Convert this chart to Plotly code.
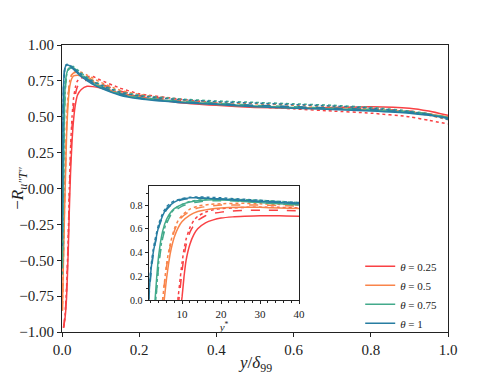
import plotly.graph_objects as go

# colours per theta
colors = {"0.25": "#f94144", "0.5": "#f9844a", "0.75": "#43aa8b", "1": "#277da1"}
thetas = ["0.25", "0.5", "0.75", "1"]
dashes = ["solid", "dash", "dot"]

# ---------- main plot data: -R vs y/delta99 ----------
x_red = [0.004, 0.008, 0.012, 0.016, 0.019, 0.022, 0.026, 0.03, 0.035, 0.04, 0.05, 0.065, 0.08,
         0.1, 0.15, 0.2, 0.3, 0.4, 0.5, 0.6, 0.7, 0.8, 0.9, 0.95, 1.0]
red_solid = [-0.97, -0.9, -0.75, -0.45, -0.15, 0.1, 0.33, 0.48, 0.59, 0.65, 0.69, 0.712, 0.71,
             0.70, 0.665, 0.64, 0.60, 0.58, 0.565, 0.56, 0.565, 0.57, 0.56, 0.54, 0.51]
red_dash = [-0.97, -0.88, -0.7, -0.38, -0.05, 0.2, 0.43, 0.57, 0.66, 0.71, 0.745, 0.755, 0.75,
            0.73, 0.68, 0.65, 0.615, 0.59, 0.575, 0.565, 0.56, 0.555, 0.54, 0.52, 0.495]
red_dot = [-0.97, -0.88, -0.68, -0.35, 0.0, 0.27, 0.5, 0.63, 0.71, 0.75, 0.77, 0.78, 0.78,
           0.755, 0.70, 0.66, 0.625, 0.595, 0.57, 0.555, 0.54, 0.525, 0.5, 0.475, 0.45]

x_orange = [0.001, 0.003, 0.005, 0.007, 0.009, 0.012, 0.016, 0.02, 0.025, 0.03, 0.04, 0.05, 0.065,
            0.08, 0.1, 0.15, 0.2, 0.3, 0.4, 0.5, 0.6, 0.7, 0.8, 0.9, 0.95, 1.0]
orange_solid = [-0.85, -0.6, -0.35, -0.12, 0.08, 0.38, 0.6, 0.71, 0.765, 0.785, 0.79, 0.785, 0.765,
                0.745, 0.715, 0.66, 0.635, 0.605, 0.585, 0.57, 0.56, 0.555, 0.55, 0.535, 0.52, 0.50]
orange_dash = [-0.85, -0.55, -0.3, -0.05, 0.15, 0.45, 0.65, 0.74, 0.79, 0.805, 0.81, 0.80, 0.78,
               0.755, 0.725, 0.665, 0.64, 0.61, 0.59, 0.575, 0.565, 0.56, 0.55, 0.535, 0.52, 0.495]
orange_dot = [-0.85, -0.55, -0.3, -0.05, 0.15, 0.45, 0.66, 0.75, 0.795, 0.81, 0.815, 0.81, 0.79,
              0.77, 0.74, 0.685, 0.655, 0.62, 0.60, 0.59, 0.58, 0.57, 0.555, 0.53, 0.51, 0.48]

x_green = [0.001, 0.003, 0.005, 0.008, 0.012, 0.016, 0.02, 0.025, 0.03, 0.045, 0.06, 0.08, 0.1,
           0.15, 0.2, 0.3, 0.4, 0.5, 0.6, 0.7, 0.8, 0.9, 0.95, 1.0]
green_solid = [-0.5, -0.1, 0.35, 0.7, 0.8, 0.83, 0.84, 0.845, 0.84, 0.80, 0.77, 0.735, 0.705,
               0.655, 0.63, 0.605, 0.59, 0.575, 0.565, 0.555, 0.545, 0.53, 0.515, 0.495]
green_dash = [-0.55, -0.15, 0.3, 0.67, 0.79, 0.825, 0.835, 0.84, 0.84, 0.805, 0.775, 0.74, 0.71,
              0.66, 0.635, 0.61, 0.595, 0.58, 0.57, 0.56, 0.55, 0.535, 0.52, 0.495]
green_dot = [-0.6, -0.2, 0.3, 0.67, 0.79, 0.83, 0.845, 0.85, 0.85, 0.815, 0.785, 0.75, 0.725,
             0.675, 0.65, 0.625, 0.61, 0.60, 0.59, 0.58, 0.565, 0.54, 0.52, 0.49]

x_blue = [0.0005, 0.002, 0.004, 0.007, 0.01, 0.015, 0.02, 0.03, 0.045, 0.06, 0.08, 0.1, 0.15,
          0.2, 0.3, 0.4, 0.5, 0.6, 0.7, 0.8, 0.9, 0.95, 1.0]
blue_solid = [-0.3, 0.35, 0.72, 0.83, 0.855, 0.86, 0.855, 0.83, 0.79, 0.76, 0.725, 0.70, 0.65,
              0.625, 0.60, 0.585, 0.57, 0.56, 0.55, 0.54, 0.525, 0.51, 0.49]
blue_dash = [-0.35, 0.3, 0.7, 0.83, 0.855, 0.86, 0.855, 0.835, 0.80, 0.77, 0.735, 0.71, 0.66,
             0.63, 0.605, 0.59, 0.58, 0.57, 0.56, 0.55, 0.53, 0.515, 0.49]
blue_dot = [-0.4, 0.3, 0.7, 0.83, 0.86, 0.865, 0.86, 0.84, 0.805, 0.775, 0.745, 0.72, 0.67,
            0.645, 0.62, 0.605, 0.595, 0.585, 0.575, 0.56, 0.535, 0.515, 0.48]

# ---------- inset data: -R vs y* ----------
yp_red = [8.5, 9, 9.5, 10, 10.5, 11, 12, 13, 14, 16, 18, 20, 23, 26, 30, 35, 40]
in_red_solid = [-0.4, -0.25, -0.1, 0.03, 0.2, 0.33, 0.47, 0.55, 0.6, 0.65, 0.675, 0.69, 0.70,
                0.705, 0.71, 0.71, 0.705]
in_red_dash = [-0.2, -0.05, 0.1, 0.25, 0.37, 0.46, 0.57, 0.63, 0.67, 0.71, 0.73, 0.74, 0.75,
               0.755, 0.755, 0.755, 0.75]
in_red_dot = [-0.1, 0.03, 0.18, 0.32, 0.43, 0.51, 0.61, 0.67, 0.705, 0.74, 0.76, 0.77, 0.775,
              0.78, 0.78, 0.78, 0.775]

yp_orange = [4.5, 5, 5.5, 6, 6.5, 7, 8, 9, 10, 12, 14, 17, 20, 25, 30, 35, 40]
in_orange_solid = [-0.3, -0.12, 0.03, 0.18, 0.3, 0.4, 0.53, 0.61, 0.66, 0.715, 0.745, 0.765,
                   0.775, 0.78, 0.78, 0.775, 0.77]
in_orange_dash = [-0.2, 0.0, 0.15, 0.28, 0.38, 0.46, 0.58, 0.655, 0.70, 0.75, 0.775, 0.79,
                  0.80, 0.80, 0.80, 0.795, 0.79]
in_orange_dot = [-0.2, 0.0, 0.16, 0.3, 0.4, 0.48, 0.6, 0.67, 0.715, 0.765, 0.79, 0.805, 0.81,
                 0.815, 0.81, 0.805, 0.80]

yp_green = [2.5, 3, 3.5, 4, 5, 6, 7, 8, 10, 12, 15, 18, 22, 26, 30, 35, 40]
in_green_solid = [-0.15, -0.02, 0.2, 0.38, 0.58, 0.68, 0.735, 0.77, 0.805, 0.825, 0.84, 0.845,
                  0.84, 0.83, 0.82, 0.81, 0.80]
in_green_dash = [-0.25, -0.1, 0.1, 0.3, 0.52, 0.64, 0.71, 0.75, 0.79, 0.815, 0.83, 0.835, 0.835,
                 0.83, 0.82, 0.81, 0.80]
in_green_dot = [-0.25, -0.1, 0.12, 0.32, 0.54, 0.66, 0.725, 0.765, 0.805, 0.83, 0.845, 0.85,
                0.85, 0.845, 0.84, 0.83, 0.82]

yp_blue = [1.0, 1.5, 2, 2.5, 3, 4, 5, 6, 7, 8, 10, 12, 14, 17, 20, 25, 30, 35, 40]
in_blue_solid = [-0.3, 0.05, 0.25, 0.38, 0.47, 0.62, 0.71, 0.77, 0.80, 0.825, 0.85, 0.86, 0.86,
                 0.855, 0.85, 0.84, 0.83, 0.82, 0.81]
in_blue_dash = [-0.3, 0.03, 0.22, 0.36, 0.46, 0.61, 0.70, 0.76, 0.795, 0.82, 0.845, 0.855, 0.858,
                0.855, 0.85, 0.84, 0.83, 0.825, 0.815]
in_blue_dot = [-0.3, 0.08, 0.28, 0.41, 0.50, 0.64, 0.73, 0.785, 0.815, 0.835, 0.855, 0.865, 0.868,
               0.865, 0.86, 0.85, 0.84, 0.83, 0.82]

main = {
    "0.25": (x_red, [red_solid, red_dash, red_dot]),
    "0.5": (x_orange, [orange_solid, orange_dash, orange_dot]),
    "0.75": (x_green, [green_solid, green_dash, green_dot]),
    "1": (x_blue, [blue_solid, blue_dash, blue_dot]),
}
inset = {
    "0.25": (yp_red, [in_red_solid, in_red_dash, in_red_dot]),
    "0.5": (yp_orange, [in_orange_solid, in_orange_dash, in_orange_dot]),
    "0.75": (yp_green, [in_green_solid, in_green_dash, in_green_dot]),
    "1": (yp_blue, [in_blue_solid, in_blue_dash, in_blue_dot]),
}

y_ticks = [-1.0, -0.75, -0.5, -0.25, 0.0, 0.25, 0.5, 0.75, 1.0]
y_ticktext = ["\u22121.00", "\u22120.75", "\u22120.50", "\u22120.25", "0.00", "0.25", "0.50", "0.75", "1.00"]
x_ticks = [0.0, 0.2, 0.4, 0.6, 0.8, 1.0]

SERIF = "Liberation Serif, DejaVu Serif, serif"

fig = go.Figure()

for th in thetas:
    xs, series = main[th]
    for d, ys in zip(dashes, series):
        fig.add_trace(go.Scatter(
            x=xs, y=ys, mode="lines", line=dict(color=colors[th], width=1.5, dash=d, shape="spline", smoothing=0.5),
            name="<i>\u03b8</i> = " + th, showlegend=(d == "solid"), xaxis="x", yaxis="y"))

for th in thetas:
    xs, series = inset[th]
    for d, ys in zip(dashes, series):
        fig.add_trace(go.Scatter(
            x=xs, y=ys, mode="lines", line=dict(color=colors[th], width=1.5, dash=d, shape="spline", smoothing=0.5),
            showlegend=False, xaxis="x2", yaxis="y2"))

axis_common = dict(showline=True, mirror=True, linecolor="#222", linewidth=1, showgrid=False,
                   zeroline=False, ticks="outside", tickcolor="#222", automargin=False)

# the page body adds an 8px offset, so the figure is 8px smaller than the window
fig.update_layout(
    width=490, height=366,
    margin=dict(l=54, r=50, t=37, b=42),
    paper_bgcolor="white", plot_bgcolor="white",
    font=dict(family=SERIF, size=15, color="#222"),
    showlegend=True,
    legend=dict(x=0.985, y=-0.02, xanchor="right", yanchor="bottom", bgcolor="rgba(0,0,0,0)",
                font=dict(family=SERIF, size=11), tracegroupgap=0),
    xaxis=dict(axis_common, range=[0, 1], tickvals=x_ticks, ticklen=4,
               ticktext=["%.1f" % v for v in x_ticks]),
    yaxis=dict(axis_common, range=[-1, 1], tickvals=y_ticks, ticktext=y_ticktext, ticklen=4,
               title=dict(text="\u2212<i>R</i><sub><i>u\u2033T\u2033</i></sub>", font=dict(size=17), standoff=2)),
    xaxis2=dict(axis_common, domain=[0.2254, 0.614], anchor="y2", range=[1.5, 40],
                tickvals=[10, 20, 30, 40], ticklen=3.5, tickfont=dict(size=11),
                minor=dict(ticks="outside", dtick=2, ticklen=2, tickcolor="#222"),
                title=dict(text="<i>y</i><sup>*</sup>", font=dict(size=11), standoff=0)),
    yaxis2=dict(axis_common, domain=[0.1115, 0.5087], anchor="x2", range=[0, 0.96],
                tickvals=[0.0, 0.2, 0.4, 0.6, 0.8], ticktext=["0.0", "0.2", "0.4", "0.6", "0.8"],
                ticklen=3.5, tickfont=dict(size=10),
                minor=dict(ticks="outside", dtick=0.1, ticklen=2, tickcolor="#222")),
    annotations=[dict(text="<i>y</i>/<i>\u03b4</i><sub>99</sub>", xref="paper", yref="paper",
                      x=0.5, y=-0.11, xanchor="center", yanchor="middle", showarrow=False,
                      font=dict(size=17))],
)

fig.write_html("out.html")
